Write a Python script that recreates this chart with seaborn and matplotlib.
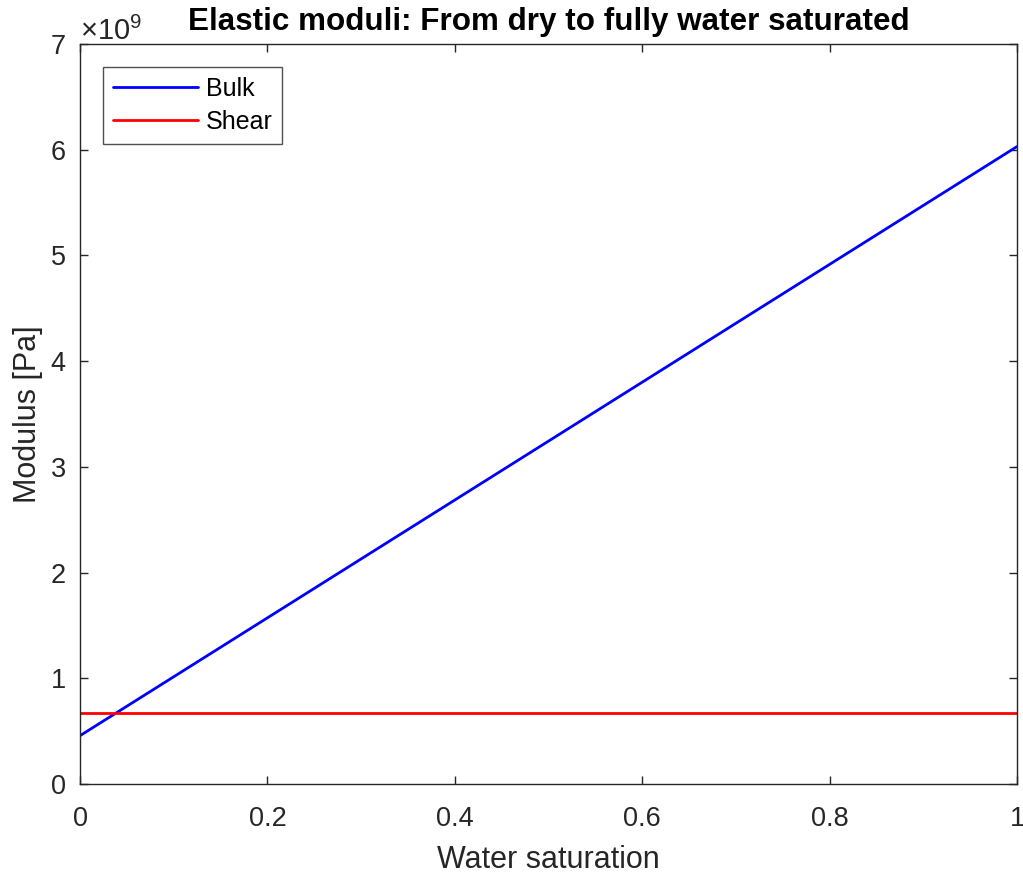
import numpy as np
import pandas as pd
import seaborn as sns
import matplotlib
matplotlib.use("Agg")
import matplotlib.pyplot as plt
from matplotlib.ticker import ScalarFormatter

# Data
water_saturation = [0.0, 1.0]
bulk_modulus = [0.457e9, 6.03e9]
shear_modulus = [0.672e9, 0.672e9]
series_names = ["Bulk", "Shear"]
x_ticks = [0, 0.2, 0.4, 0.6, 0.8, 1]
x_tick_labels = ["0", "0.2", "0.4", "0.6", "0.8", "1"]
y_ticks = [0, 1e9, 2e9, 3e9, 4e9, 5e9, 6e9, 7e9]

df = pd.DataFrame({
    "Water saturation": water_saturation * 2,
    "Modulus": bulk_modulus + shear_modulus,
    "Series": [series_names[0]] * len(water_saturation) + [series_names[1]] * len(water_saturation),
})

sns.set_style("white")
plt.rcParams['font.family'] = ['Liberation Sans', 'DejaVu Sans']
plt.rcParams['mathtext.fontset'] = 'custom'
plt.rcParams['mathtext.rm'] = 'Liberation Sans'

fig = plt.figure(figsize=(10.23, 8.77), dpi=100)
ax = fig.add_axes([80/1023, 1 - 784/877, (1017-80)/1023, (784-44)/877])

sns.lineplot(data=df, x="Water saturation", y="Modulus", hue="Series",
             palette={"Bulk": (0, 0, 1), "Shear": (1, 0, 0)}, linewidth=2, ax=ax)

ax.set_xlim(0, 1)
ax.set_ylim(0, 7e9)
ax.set_xticks(x_ticks)
ax.set_xticklabels(x_tick_labels)
ax.set_yticks(y_ticks)
fmt = ScalarFormatter(useMathText=True)
fmt.set_powerlimits((0, 0))
ax.yaxis.set_major_formatter(fmt)

gray = "#262626"
for s in ax.spines.values():
    s.set_visible(True)
    s.set_color(gray)
    s.set_linewidth(1.0)
ax.tick_params(direction="in", length=6, width=1, colors=gray, labelsize=19.5,
               top=True, right=True, bottom=True, left=True)
ax.tick_params(axis="x", pad=16)
ax.tick_params(axis="y", pad=10)
ax.yaxis.get_offset_text().set_fontsize(21)
ax.yaxis.get_offset_text().set_color(gray)

ax.set_xlabel("Water saturation", fontsize=22, color=gray, labelpad=9)
ax.set_ylabel("Modulus [Pa]", fontsize=22, color=gray, labelpad=5)
ax.set_title("Elastic moduli: From dry to fully water saturated", fontsize=22.6,
             fontweight="bold", color="black", pad=10)

leg = ax.legend(loc="upper left", fontsize=18, frameon=True, fancybox=False,
                edgecolor=gray, handlelength=3.4, handletextpad=0.3,
                borderpad=0.4, labelspacing=0.35, borderaxespad=0,
                bbox_to_anchor=(23/937, 1 - 23/740), title=None)
leg.get_frame().set_linewidth(1.0)
for t in leg.get_texts():
    t.set_color("black")

fig.savefig("out.png", dpi=100)
